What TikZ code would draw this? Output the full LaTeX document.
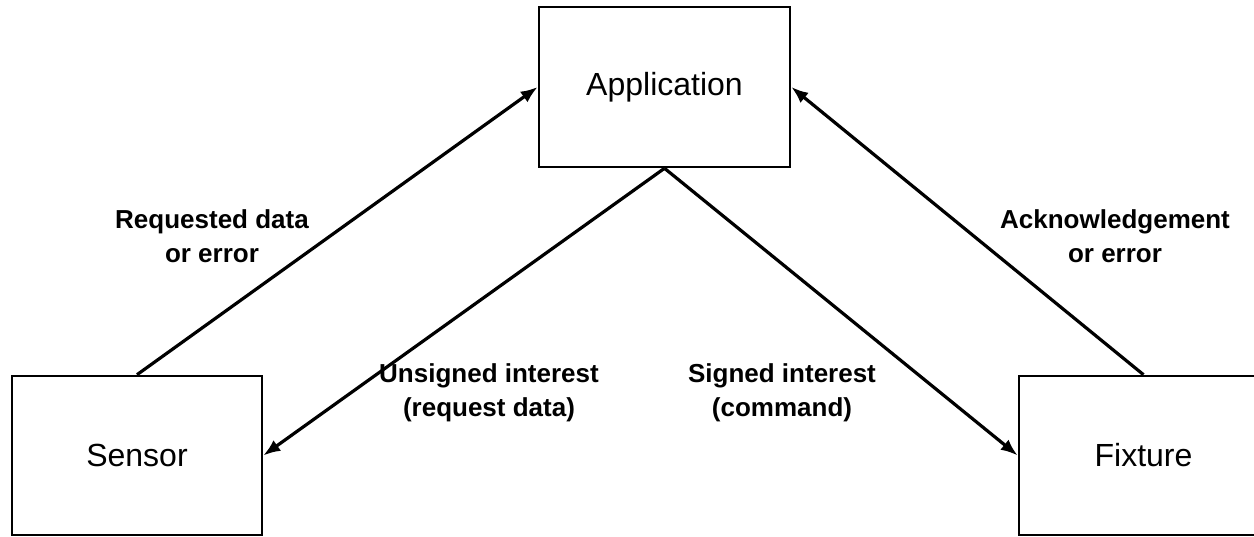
\documentclass[tikz,border=0pt]{standalone}
\usepackage{fontspec}
\setmainfont{Liberation Sans}
\usetikzlibrary{arrows.meta}
\begin{document}
\begin{tikzpicture}[x=1pt,y=-1pt,
  box/.style={draw=black, line width=2.6pt, fill=white, inner sep=0pt,
    font=\fontsize{32}{38}\selectfont},
  conn/.style={line width=3.2pt, -{Latex[length=17pt,width=13pt]}},
  lbl/.style={align=center, inner sep=0pt, font=\fontsize{26}{34}\selectfont\bfseries}]
\useasboundingbox (0,0) rectangle (1254,536);
\begin{scope}
\clip (0,0) rectangle (1254,536);
\node[box, minimum width=251pt, minimum height=160pt] (app) at (664.5,87) {Application};
\node[box, minimum width=250pt, minimum height=159pt] (sensor) at (137,455.5) {Sensor};
\node[box, minimum width=249pt, minimum height=159pt] (fixture) at (1143.5,455.5) {Fixture};
\end{scope}
\draw[conn] (sensor.north) -- (app.west);
\draw[conn] (app.south) -- (sensor.east);
\draw[conn] (app.south) -- (fixture.west);
\draw[conn] (fixture.north) -- (app.east);
\node[lbl] (l1) at (212,236) {Requested data\\or error};
\node[lbl] (l2) at (489,393) {Unsigned interest\\(request data)};
\node[lbl] (l3) at (782,393) {Signed interest\\(command)};
\node[lbl] (l4) at (1115,236) {Acknowledgement\\or error};
\end{tikzpicture}
\end{document}
